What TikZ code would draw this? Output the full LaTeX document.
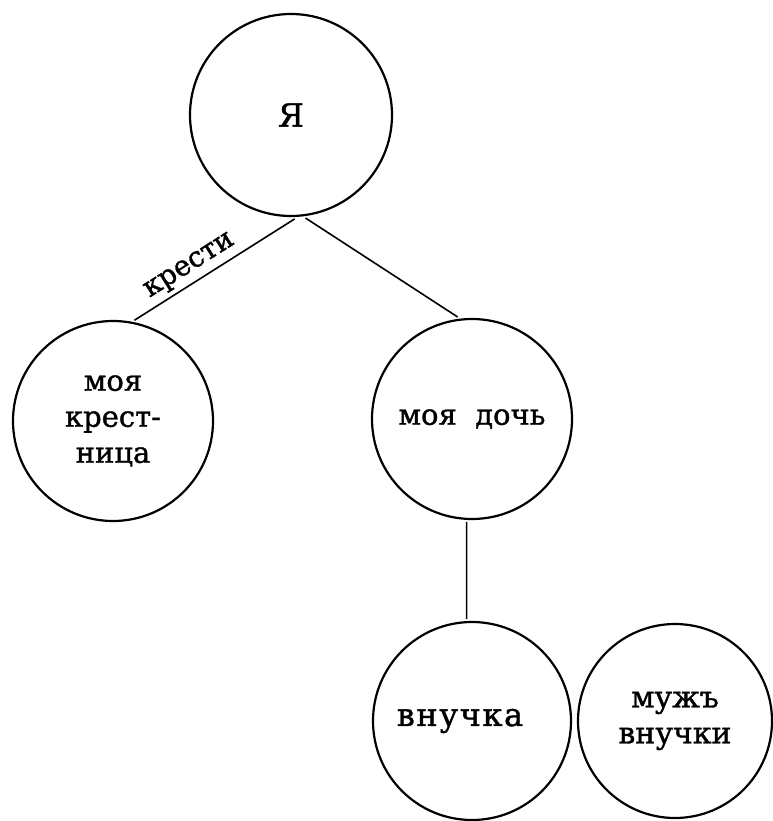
\documentclass[tikz,border=0pt]{standalone}
\usepackage{fontspec}
\setmainfont[FakeBold=1.2]{DejaVu Serif}
\begin{document}
\begin{tikzpicture}[x=1pt,y=-1pt,
  circ/.style={draw, circle, line width=2.2pt, inner sep=0pt, outer sep=3pt,
    minimum size=200pt, align=center, font=\fontsize{29}{36}\selectfont},
  conn/.style={line width=1.6pt},
  lbl/.style={font=\fontsize{28}{34}\selectfont}]
\useasboundingbox (0,0) rectangle (772,821);
\node[circ, minimum size=202pt, font=\fontsize{32}{40}\selectfont] (ya) at (291,115) {Я};
\node[circ] (kr) at (113,421) {моя\\крест-\\ница};
\node[circ] (doch) at (472,419) {моя\ \ дочь};
\node[circ, minimum size=198pt, font=\fontsize{32}{36}\selectfont\addfontfeature{LetterSpace=5}] (vn) at (472,721) {внучка\hspace*{24pt}};
\node[circ, minimum size=194pt, font=\fontsize{30}{36}\selectfont] (muzh) at (675,721) {мужъ\\внучки};
\draw[conn] (ya.-88) -- node[lbl, pos=0.6, sloped, above=1pt] (krlbl) {крести} (kr.78);
\draw[conn] (ya.-82) -- (doch.98);
\draw[conn] (doch.-93) -- (vn.93);
\end{tikzpicture}
\end{document}
